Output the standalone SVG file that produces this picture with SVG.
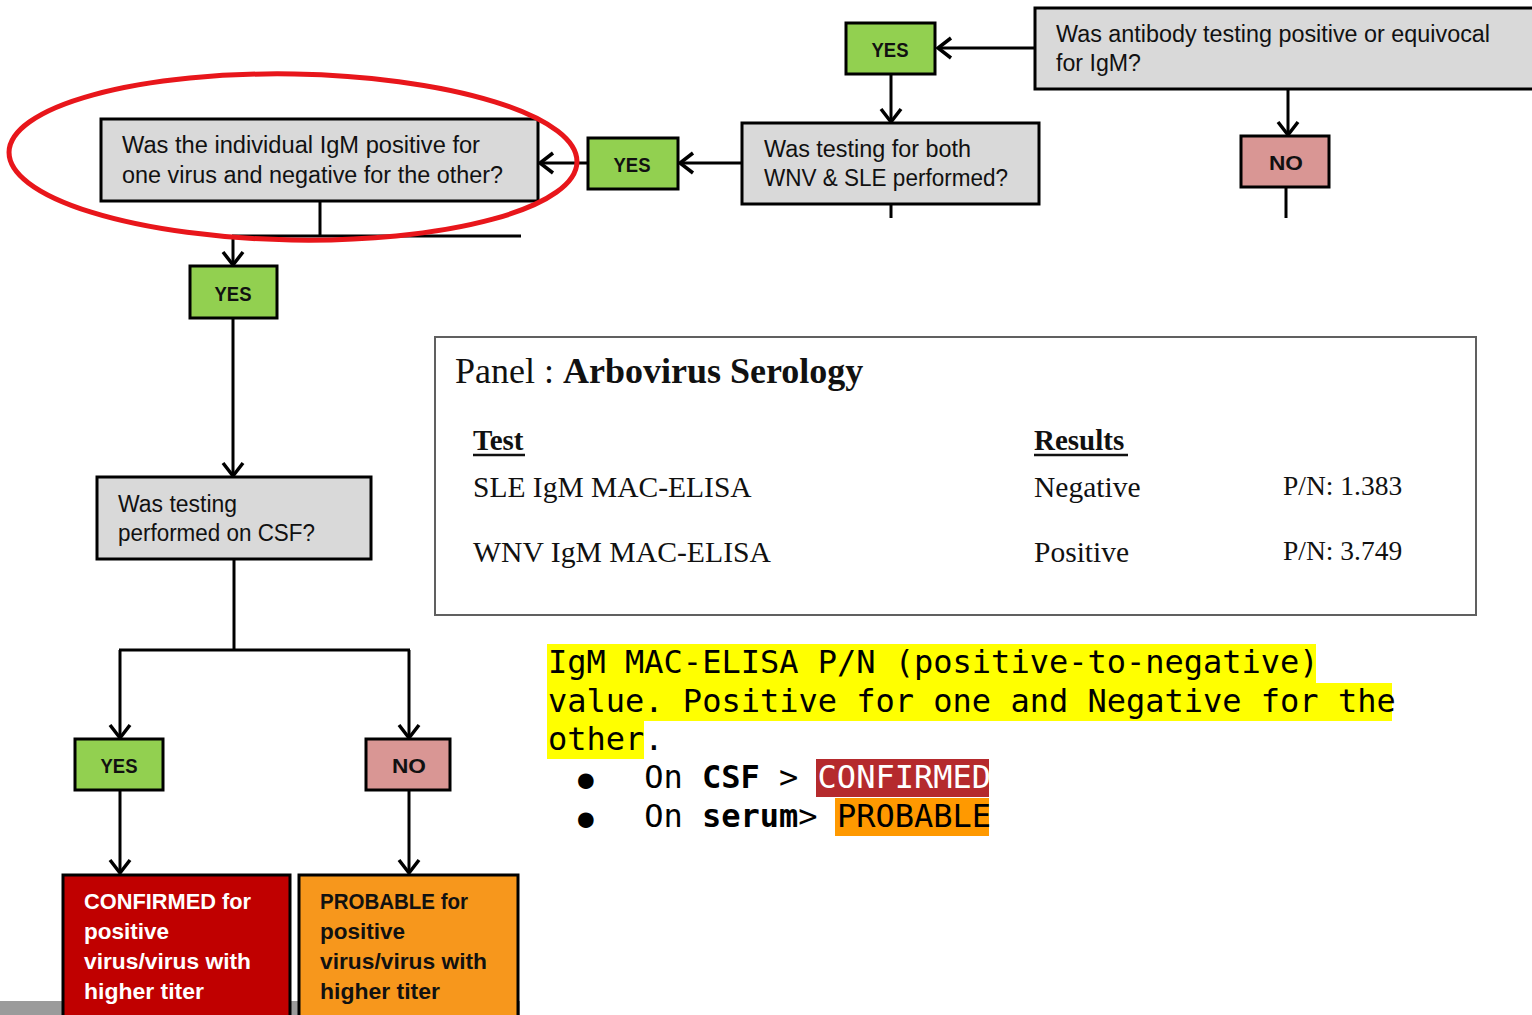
<svg xmlns="http://www.w3.org/2000/svg" width="1532" height="1015" viewBox="0 0 1532 1015">
<defs>
<marker id="arr" markerUnits="userSpaceOnUse" viewBox="-16 -13 19 26" refX="0" refY="0" markerWidth="19" markerHeight="26" orient="auto" overflow="visible">
<path d="M-13,-10 L0,0 L-13,10" fill="none" stroke="#000" stroke-width="3.5" stroke-linejoin="miter"/>
</marker>
<style>
.q{fill:#d9d9d9;stroke:#000;stroke-width:3}
.yes{fill:#92d050;stroke:#000;stroke-width:3}
.no{fill:#d99694;stroke:#000;stroke-width:3}
.conf{fill:#c00000;stroke:#000;stroke-width:3}
.prob{fill:#f7971c;stroke:#000;stroke-width:3}
.t{font-family:"Liberation Sans",Arial,sans-serif;font-size:23px;fill:#111}
.lb{font-family:"Liberation Sans",Arial,sans-serif;font-size:21px;font-weight:bold;fill:#111}
.bt{font-family:"Liberation Sans",Arial,sans-serif;font-size:22.5px;font-weight:bold}
.c{fill:none;stroke:#000;stroke-width:3}
.ca{fill:none;stroke:#000;stroke-width:3;marker-end:url(#arr)}
.sf{font-family:"Liberation Serif","Times New Roman",serif;fill:#111}
.m{font-family:"DejaVu Sans Mono","Liberation Mono",monospace;font-size:32px;fill:#000}
</style>
</defs>
<rect x="0" y="0" width="1532" height="1015" fill="#fff"/>
<rect x="0" y="1001" width="520" height="14" fill="#9b9b9b"/>

<g id="connectors">
<line class="ca" x1="1035" y1="48" x2="938" y2="48"/>
<line class="ca" x1="891" y1="74" x2="891" y2="122"/>
<line class="c" x1="891" y1="204" x2="891" y2="218"/>
<line class="ca" x1="1288" y1="89" x2="1288" y2="135"/>
<line class="c" x1="1286" y1="187" x2="1286" y2="218"/>
<line class="ca" x1="742" y1="163" x2="680" y2="163"/>
<line class="ca" x1="588" y1="163" x2="540" y2="163"/>
<line class="c" x1="320" y1="201" x2="320" y2="236"/>
<line class="c" x1="232" y1="236" x2="521" y2="236"/>
<line class="ca" x1="233" y1="236" x2="233" y2="265"/>
<line class="ca" x1="233" y1="318" x2="233" y2="476"/>
<line class="c" x1="234" y1="559" x2="234" y2="650"/>
<line class="c" x1="119" y1="650" x2="410" y2="650"/>
<line class="ca" x1="120" y1="650" x2="120" y2="738"/>
<line class="ca" x1="409" y1="650" x2="409" y2="738"/>
<line class="ca" x1="120" y1="790" x2="120" y2="873"/>
<line class="ca" x1="409" y1="790" x2="409" y2="873"/>
</g>

<g id="q-antibody">
<rect class="q" x="1035" y="8" width="502" height="81"/>
<text class="t" x="1056" y="42" textLength="434" lengthAdjust="spacingAndGlyphs">Was antibody testing positive or equivocal</text>
<text class="t" x="1056" y="71" textLength="85" lengthAdjust="spacingAndGlyphs">for IgM?</text>
</g>
<g id="yes-1">
<rect class="yes" x="846" y="23" width="89" height="51"/>
<text class="lb" x="890" y="57" text-anchor="middle" textLength="37" lengthAdjust="spacingAndGlyphs">YES</text>
</g>
<g id="no-1">
<rect class="no" x="1241" y="136" width="88" height="51"/>
<text class="lb" x="1286" y="170" text-anchor="middle" textLength="34" lengthAdjust="spacingAndGlyphs">NO</text>
</g>
<g id="q-both">
<rect class="q" x="742" y="123" width="297" height="81"/>
<text class="t" x="764" y="157" textLength="207" lengthAdjust="spacingAndGlyphs">Was testing for both</text>
<text class="t" x="764" y="186" textLength="244" lengthAdjust="spacingAndGlyphs">WNV &amp; SLE performed?</text>
</g>
<g id="yes-2">
<rect class="yes" x="588" y="138" width="90" height="51"/>
<text class="lb" x="632" y="172" text-anchor="middle" textLength="37" lengthAdjust="spacingAndGlyphs">YES</text>
</g>
<g id="q-individual">
<rect class="q" x="101" y="119" width="437" height="82"/>
<text class="t" x="122" y="153" textLength="358" lengthAdjust="spacingAndGlyphs">Was the individual IgM positive for</text>
<text class="t" x="122" y="183" textLength="381" lengthAdjust="spacingAndGlyphs">one virus and negative for the other?</text>
</g>
<g id="yes-3">
<rect class="yes" x="190" y="266" width="87" height="52"/>
<text class="lb" x="233" y="301" text-anchor="middle" textLength="37" lengthAdjust="spacingAndGlyphs">YES</text>
</g>
<g id="q-csf">
<rect class="q" x="97" y="477" width="274" height="82"/>
<text class="t" x="118" y="512" textLength="119" lengthAdjust="spacingAndGlyphs">Was testing</text>
<text class="t" x="118" y="541" textLength="197" lengthAdjust="spacingAndGlyphs">performed on CSF?</text>
</g>
<g id="yes-4">
<rect class="yes" x="75" y="739" width="88" height="51"/>
<text class="lb" x="119" y="773" text-anchor="middle" textLength="37" lengthAdjust="spacingAndGlyphs">YES</text>
</g>
<g id="no-4">
<rect class="no" x="366" y="739" width="84" height="51"/>
<text class="lb" x="409" y="773" text-anchor="middle" textLength="34" lengthAdjust="spacingAndGlyphs">NO</text>
</g>
<g id="confirmed">
<rect class="conf" x="63" y="875" width="227" height="150"/>
<g class="bt" fill="#fff">
<text x="84" y="909" textLength="167" lengthAdjust="spacingAndGlyphs">CONFIRMED for</text>
<text x="84" y="939" textLength="85" lengthAdjust="spacingAndGlyphs">positive</text>
<text x="84" y="969" textLength="167" lengthAdjust="spacingAndGlyphs">virus/virus with</text>
<text x="84" y="999" textLength="120" lengthAdjust="spacingAndGlyphs">higher titer</text>
</g>
</g>
<g id="probable">
<rect class="prob" x="299" y="875" width="219" height="150"/>
<g class="bt" fill="#111">
<text x="320" y="909" textLength="148" lengthAdjust="spacingAndGlyphs">PROBABLE for</text>
<text x="320" y="939" textLength="85" lengthAdjust="spacingAndGlyphs">positive</text>
<text x="320" y="969" textLength="167" lengthAdjust="spacingAndGlyphs">virus/virus with</text>
<text x="320" y="999" textLength="120" lengthAdjust="spacingAndGlyphs">higher titer</text>
</g>
</g>

<ellipse cx="293" cy="157" rx="284" ry="83" fill="none" stroke="#e8161b" stroke-width="5" transform="rotate(1 293 157)"/>

<g id="panel">
<rect x="435" y="337" width="1041" height="278" fill="#fff" stroke="#606060" stroke-width="2"/>
<text class="sf" x="455" y="383" font-size="36">Panel : <tspan font-weight="bold">Arbovirus Serology</tspan></text>
<text class="sf" x="473" y="450" font-size="29" font-weight="bold">Test</text>
<line x1="473" y1="455" x2="525" y2="455" stroke="#111" stroke-width="2.5"/>
<text class="sf" x="1034" y="450" font-size="29" font-weight="bold">Results</text>
<line x1="1034" y1="455" x2="1128" y2="455" stroke="#111" stroke-width="2.5"/>
<text class="sf" x="473" y="497" font-size="29.5">SLE IgM MAC-ELISA</text>
<text class="sf" x="1034" y="497" font-size="29.5">Negative</text>
<text class="sf" x="1283" y="495" font-size="27.5">P/N: 1.383</text>
<text class="sf" x="473" y="562" font-size="29.7">WNV IgM MAC-ELISA</text>
<text class="sf" x="1034" y="562" font-size="29.5">Positive</text>
<text class="sf" x="1283" y="560" font-size="27.5">P/N: 3.749</text>
</g>

<g id="note">
<rect x="547" y="644" width="769" height="39" fill="#ffff00"/>
<rect x="547" y="683" width="845" height="38" fill="#ffff00"/>
<rect x="547" y="721" width="97" height="38" fill="#ffff00"/>
<rect x="816" y="759" width="173" height="38" fill="#b52a2d"/>
<rect x="835" y="798" width="154" height="38" fill="#ff9900"/>
<text class="m" x="548" y="673">IgM MAC-ELISA P/N (positive-to-negative)</text>
<text class="m" x="548" y="712">value. Positive for one and Negative for the</text>
<text class="m" x="548" y="750">other.</text>
<text class="m" y="788"><tspan x="578" font-size="26">●</tspan><tspan x="644.3">On</tspan><tspan x="702" font-weight="bold">CSF</tspan><tspan x="779">&gt;</tspan><tspan x="817.6" fill="#fff">CONFIRMED</tspan></text>
<text class="m" y="827"><tspan x="578" font-size="26">●</tspan><tspan x="644.3">On</tspan><tspan x="702" font-weight="bold">serum</tspan><tspan x="798.3">&gt;</tspan><tspan x="837">PROBABLE</tspan></text>
</g>
</svg>
